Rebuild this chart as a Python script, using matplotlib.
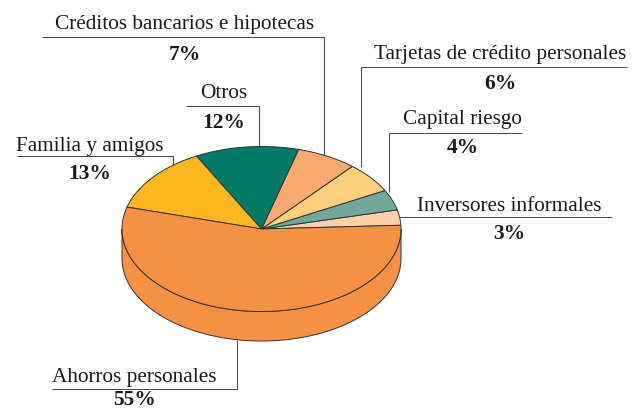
import numpy as np
import matplotlib
matplotlib.use("Agg")
import matplotlib.pyplot as plt
from matplotlib.patches import Polygon

plt.rcParams['font.family'] = ['Liberation Serif', 'DejaVu Serif']

categories = ["Inversores informales", "Capital riesgo", "Tarjetas de crédito personales",
              "Créditos bancarios e hipotecas", "Otros", "Familia y amigos", "Ahorros personales"]
values = [3, 4, 6, 7, 12, 13, 55]
colors = ["#FDD0AC", "#70A89A", "#FDD07C", "#FBA971", "#007A68", "#FDB721", "#F79245"]
side_color = "#F79245"
start_angle = 2.6
cx, cy, rx, ry, depth = 261.5, 230, 139.5, 82.5, 29.5

# label text position (x centre, name y, percent y) and leader polyline
label_pos = [(509.5, 206.5, 234), (462.5, 119.5, 148.5), (500.5, 55, 84), (185, 24, 54.5), (224, 93.5, 122.5), (90, 146.5, 174.5), (134, 377.5, 400)]
leaders = [
    [(397, 218), (612, 218)],
    [(389, 193), (389, 134), (522, 134)],
    [(361, 168), (361, 68), (627, 68)],
    [(324, 156), (324, 38), (42, 38)],
    [(259, 148), (259, 107), (186, 107)],
    [(173, 167), (173, 157), (17, 157)],
    [(237, 341), (237, 390), (52, 390)],
]

fig = plt.figure(figsize=(6.39, 4.10), dpi=100)
ax = fig.add_axes([0, 0, 1, 1])
ax.set_xlim(0, 639)
ax.set_ylim(410, 0)
ax.axis("off")

def pt(t):
    t = np.asarray(t)
    return cx + rx * np.cos(t), cy - ry * np.sin(t)

# side wall (only the front half of the ellipse)
t = np.radians(np.linspace(180, 360, 200))
x, y = pt(t)
wall = np.column_stack([np.r_[x, x[::-1]], np.r_[y + depth, y[::-1]]])
ax.add_patch(Polygon(wall, closed=True, facecolor=side_color, edgecolor="#333333", lw=0.7, zorder=1))

# top slices from the values
angle = start_angle
for v, c in zip(values, colors):
    sweep = v / sum(values) * 360
    t = np.radians(np.linspace(angle, angle + sweep, 120))
    x, y = pt(t)
    verts = np.column_stack([np.r_[cx, x], np.r_[cy, y]])
    ax.add_patch(Polygon(verts, closed=True, facecolor=c, edgecolor="#333333", lw=0.7, zorder=2))
    angle += sweep

for pts in leaders:
    p = np.array(pts)
    ax.plot(p[:, 0], p[:, 1], color="#444444", lw=0.7, zorder=1.5, solid_capstyle="butt")

for name, v, (lx, ny, py) in zip(categories, values, label_pos):
    ax.text(lx, ny, name, ha="center", va="center", fontsize=15.3, color="#1a1a1a")
    ax.text(lx, py, f"{v}%", ha="center", va="center", fontsize=15.5, fontweight="bold", color="#1a1a1a")

fig.savefig("out.png", dpi=100, facecolor="white")
